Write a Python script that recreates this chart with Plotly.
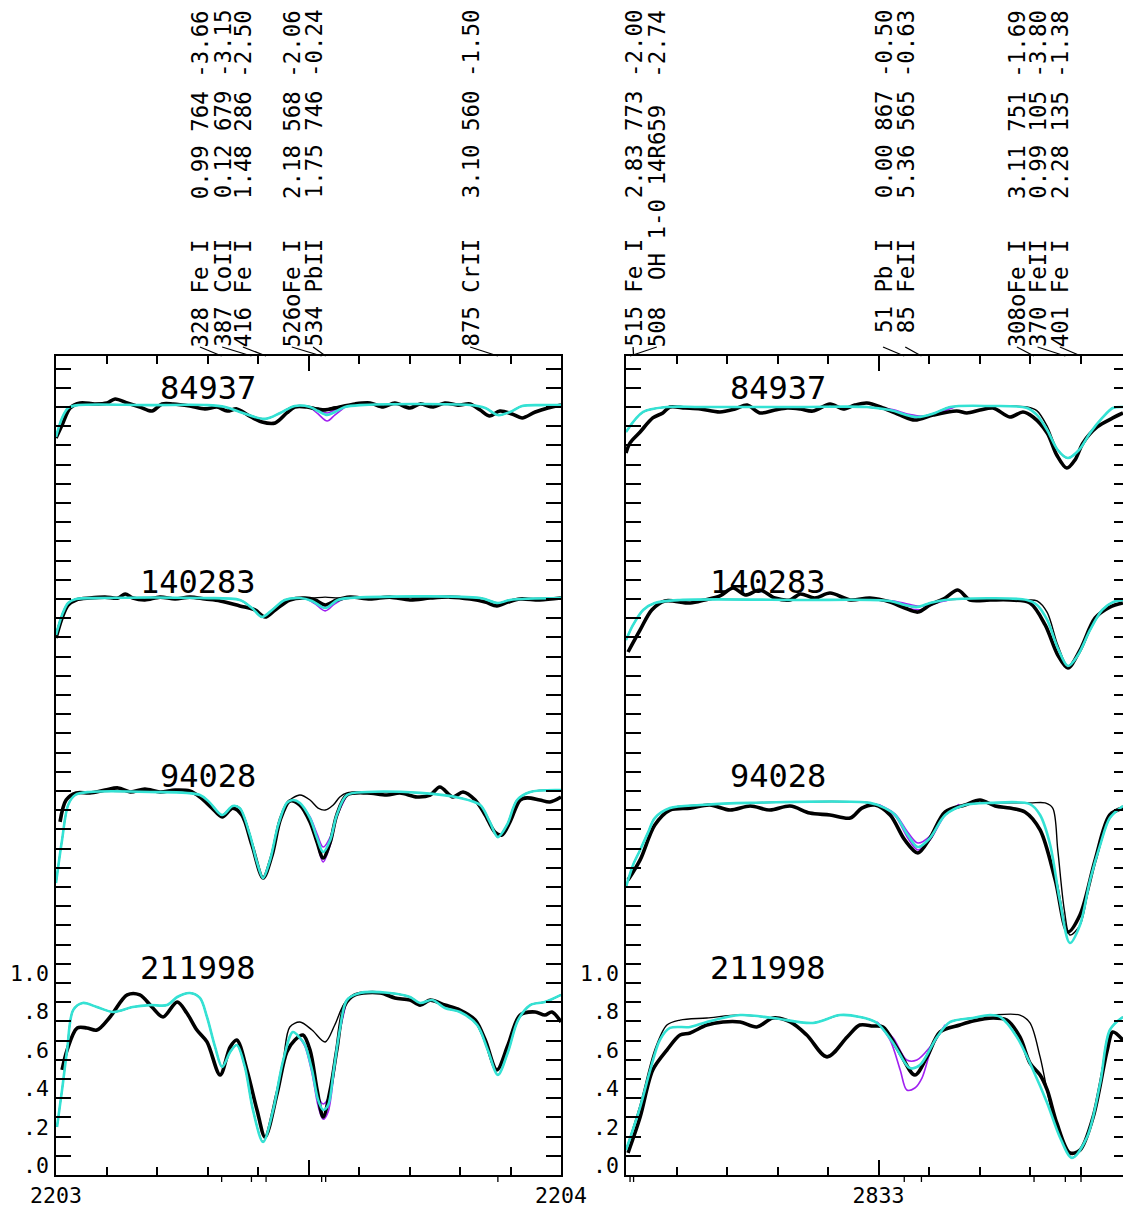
import plotly.graph_objects as go

# ---------------- data (wavelength in Angstrom, relative flux + offset) ----------------
# LEFT PANEL 2203-2204 A
l84937_obs = [(2203.000,3.839),(2203.012,3.906),(2203.028,3.995),(2203.048,4.021),(2203.077,4.016),(2203.101,4.021),
    (2203.117,4.042),(2203.141,4.021),(2203.166,4.000),(2203.190,3.979),(2203.210,4.016),(2203.232,4.016),(2203.265,4.005),
    (2203.295,3.990),(2203.319,4.000),(2203.339,3.979),(2203.358,3.990),(2203.380,3.958),(2203.408,3.922),(2203.434,3.917),
    (2203.457,3.969),(2203.473,4.000),(2203.497,4.000),(2203.529,3.984),(2203.562,4.000),(2203.592,4.016),(2203.622,4.021),
    (2203.648,4.000),(2203.671,4.021),(2203.701,3.995),(2203.721,4.016),(2203.747,4.000),(2203.770,4.021),(2203.796,4.010),
    (2203.820,4.016),(2203.840,3.984),(2203.859,3.953),(2203.879,3.979),(2203.903,3.964),(2203.923,3.943),(2203.949,3.974),
    (2203.974,3.995),(2204.000,4.010)]
l84937_fit = [(2203.000,3.844),(2203.012,3.943),(2203.024,3.995),(2203.044,4.010),(2203.186,4.010),(2203.299,4.010),
    (2203.335,4.000),(2203.364,3.974),(2203.414,3.938),(2203.444,3.969),(2203.473,4.005),(2203.503,4.000),(2203.519,3.979),
    (2203.537,3.958),(2203.552,3.974),(2203.572,4.000),(2203.602,4.010),(2203.820,4.010),(2203.850,3.995),(2203.875,3.958),
    (2203.899,3.974),(2203.923,4.005),(2203.958,4.010),(2204.000,4.010)]
l84937_nopb = [(2203.000,3.844),(2203.012,3.943),(2203.024,3.995),(2203.044,4.010),(2203.186,4.010),(2203.299,4.010),
    (2203.335,4.000),(2203.364,3.974),(2203.414,3.938),(2203.444,3.969),(2203.473,4.005),(2203.503,4.000),(2203.519,3.995),
    (2203.537,3.990),(2203.552,4.000),(2203.572,4.005),(2203.602,4.010),(2203.820,4.010),(2203.850,3.995),(2203.875,3.958),
    (2203.899,3.974),(2203.923,4.005),(2203.958,4.010),(2204.000,4.010)]
l84937_lo = [(2203.503,4.000),(2203.519,3.964),(2203.537,3.927),(2203.552,3.958),(2203.572,4.000)]
l84937_hi = [(2203.503,4.000),(2203.519,3.985),(2203.537,3.969),(2203.552,3.984),(2203.572,4.000)]

l140283_obs = [(2203.000,2.797),(2203.012,2.901),(2203.024,2.969),(2203.040,2.995),(2203.067,3.005),(2203.097,3.010),
    (2203.123,3.005),(2203.137,3.026),(2203.152,3.005),(2203.176,2.995),(2203.206,3.010),(2203.236,3.000),(2203.265,3.010),
    (2203.295,3.000),(2203.325,2.990),(2203.364,2.964),(2203.394,2.943),(2203.414,2.906),(2203.434,2.943),(2203.463,2.995),
    (2203.493,3.005),(2203.513,2.995),(2203.533,2.969),(2203.556,2.995),(2203.582,3.010),(2203.622,3.000),(2203.661,3.010),
    (2203.701,2.995),(2203.741,3.005),(2203.780,3.010),(2203.820,3.000),(2203.850,2.984),(2203.873,2.964),(2203.895,2.984),
    (2203.919,3.000),(2203.958,2.995),(2204.000,3.005)]
l140283_fit = [(2203.000,2.813),(2203.012,2.917),(2203.024,2.979),(2203.040,3.000),(2203.087,3.005),(2203.285,3.005),
    (2203.364,2.995),(2203.388,2.953),(2203.408,2.906),(2203.428,2.943),(2203.453,2.995),(2203.483,3.005),(2203.507,2.990),
    (2203.533,2.953),(2203.558,2.995),(2203.582,3.005),(2203.840,3.005),(2203.875,2.979),(2203.899,2.995),(2204.000,3.005)]
l140283_nopb = [(2203.000,2.813),(2203.012,2.917),(2203.024,2.979),(2203.040,3.000),(2203.087,3.005),(2203.285,3.005),
    (2203.364,2.995),(2203.388,2.953),(2203.408,2.906),(2203.428,2.943),(2203.453,2.995),(2203.483,3.005),(2203.507,3.005),
    (2203.533,3.010),(2203.558,3.005),(2203.582,3.005),(2203.840,3.005),(2203.875,2.979),(2203.899,2.995),(2204.000,3.005)]
l140283_lo = [(2203.493,3.005),(2203.513,2.975),(2203.533,2.938),(2203.552,2.975),(2203.572,3.005)]
l140283_hi = [(2203.493,3.005),(2203.513,2.990),(2203.533,2.964),(2203.552,2.990),(2203.572,3.005)]

l94028_obs = [(2203.008,1.839),(2203.020,1.953),(2203.040,1.990),(2203.067,1.990),(2203.097,2.005),(2203.123,2.016),
    (2203.147,1.995),(2203.176,2.010),(2203.206,1.995),(2203.236,2.005),(2203.265,2.000),(2203.285,1.969),(2203.309,1.911),
    (2203.329,1.865),(2203.350,1.911),(2203.368,1.875),(2203.388,1.719),(2203.410,1.547),(2203.428,1.667),(2203.444,1.849),
    (2203.463,1.948),(2203.483,1.927),(2203.503,1.839),(2203.517,1.734),(2203.529,1.651),(2203.543,1.734),(2203.556,1.875),
    (2203.576,1.979),(2203.616,1.990),(2203.655,1.979),(2203.681,1.990),(2203.715,1.969),(2203.741,1.979),(2203.760,2.021),
    (2203.786,1.969),(2203.806,1.995),(2203.830,1.953),(2203.850,1.875),(2203.869,1.786),(2203.883,1.771),(2203.899,1.839),
    (2203.919,1.953),(2203.933,1.964),(2203.958,1.953),(2203.978,1.943),(2204.000,1.969)]
l94028_fit = [(2203.000,1.521),(2203.012,1.745),(2203.024,1.927),(2203.038,1.979),(2203.067,1.995),(2203.186,1.995),
    (2203.285,1.979),(2203.305,1.938),(2203.329,1.875),(2203.350,1.922),(2203.364,1.911),(2203.384,1.771),(2203.398,1.630),
    (2203.410,1.547),(2203.424,1.641),(2203.440,1.823),(2203.457,1.938),(2203.469,1.953),(2203.483,1.938),(2203.503,1.859),
    (2203.517,1.755),(2203.529,1.682),(2203.543,1.745),(2203.556,1.875),(2203.576,1.979),(2203.616,1.995),(2203.721,1.990),
    (2203.800,1.964),(2203.840,1.927),(2203.859,1.839),(2203.875,1.760),(2203.893,1.823),(2203.913,1.953),(2203.939,1.995),
    (2204.000,2.005)]
l94028_nopb = [(2203.000,1.521),(2203.012,1.745),(2203.024,1.927),(2203.038,1.979),(2203.067,1.995),(2203.186,1.995),
    (2203.285,1.979),(2203.305,1.938),(2203.329,1.875),(2203.350,1.922),(2203.364,1.911),(2203.384,1.771),(2203.398,1.630),
    (2203.410,1.547),(2203.424,1.641),(2203.440,1.823),(2203.457,1.938),(2203.469,1.964),(2203.483,1.979),(2203.503,1.953),
    (2203.519,1.911),(2203.533,1.901),(2203.549,1.927),(2203.562,1.969),(2203.576,1.990),(2203.616,1.995),(2203.721,1.990),
    (2203.800,1.964),(2203.840,1.927),(2203.859,1.839),(2203.875,1.760),(2203.893,1.823),(2203.913,1.953),(2203.939,1.995),
    (2204.000,2.005)]
l94028_lo = [(2203.483,1.938),(2203.503,1.849),(2203.517,1.729),(2203.529,1.630),(2203.543,1.719),(2203.556,1.865),(2203.576,1.979)]
l94028_hi = [(2203.483,1.938),(2203.503,1.865),(2203.517,1.776),(2203.529,1.708),(2203.543,1.760),(2203.556,1.880),(2203.576,1.979)]

l211998_obs = [(2203.012,0.547),(2203.022,0.651),(2203.042,0.766),(2203.061,0.766),(2203.081,0.755),(2203.107,0.823),
    (2203.141,0.938),(2203.166,0.938),(2203.190,0.875),(2203.212,0.823),(2203.240,0.901),(2203.259,0.844),(2203.279,0.755),
    (2203.299,0.693),(2203.325,0.521),(2203.345,0.667),(2203.358,0.703),(2203.378,0.547),(2203.398,0.339),(2203.414,0.198),
    (2203.438,0.427),(2203.457,0.641),(2203.473,0.703),(2203.489,0.729),(2203.503,0.651),(2203.517,0.443),(2203.529,0.302),
    (2203.543,0.443),(2203.556,0.651),(2203.572,0.885),(2203.592,0.938),(2203.642,0.948),(2203.671,0.922),(2203.701,0.911),
    (2203.721,0.885),(2203.741,0.911),(2203.770,0.885),(2203.800,0.859),(2203.830,0.807),(2203.850,0.703),(2203.873,0.547),
    (2203.895,0.677),(2203.919,0.833),(2203.949,0.849),(2203.968,0.833),(2203.982,0.849),(2204.000,0.797)]
l211998_fit = [(2203.002,0.250),(2203.012,0.443),(2203.022,0.651),(2203.034,0.859),(2203.053,0.896),(2203.081,0.875),
    (2203.113,0.849),(2203.152,0.875),(2203.186,0.885),(2203.220,0.885),(2203.240,0.927),(2203.265,0.948),(2203.285,0.922),
    (2203.299,0.823),(2203.315,0.667),(2203.329,0.563),(2203.345,0.641),(2203.358,0.677),(2203.374,0.563),(2203.390,0.339),
    (2203.410,0.172),(2203.430,0.339),(2203.450,0.599),(2203.469,0.745),(2203.483,0.714),(2203.493,0.677),(2203.507,0.547),
    (2203.519,0.391),(2203.529,0.339),(2203.539,0.365),(2203.550,0.547),(2203.562,0.755),(2203.576,0.911),(2203.602,0.948),
    (2203.661,0.948),(2203.701,0.927),(2203.721,0.896),(2203.745,0.911),(2203.770,0.870),(2203.800,0.849),(2203.834,0.781),
    (2203.855,0.651),(2203.875,0.521),(2203.895,0.641),(2203.915,0.807),(2203.939,0.885),(2203.968,0.901),(2204.000,0.938)]
l211998_nopb = [(2203.002,0.250),(2203.012,0.443),(2203.022,0.651),(2203.034,0.859),(2203.053,0.896),(2203.081,0.875),
    (2203.113,0.849),(2203.152,0.875),(2203.186,0.885),(2203.220,0.885),(2203.240,0.927),(2203.265,0.948),(2203.285,0.922),
    (2203.299,0.823),(2203.315,0.667),(2203.329,0.563),(2203.345,0.641),(2203.358,0.677),(2203.374,0.563),(2203.390,0.339),
    (2203.410,0.172),(2203.430,0.339),(2203.450,0.599),(2203.463,0.771),(2203.483,0.797),(2203.507,0.755),(2203.533,0.693),
    (2203.552,0.781),(2203.572,0.896),(2203.602,0.948),(2203.661,0.948),(2203.701,0.927),(2203.721,0.896),(2203.745,0.911),
    (2203.770,0.870),(2203.800,0.849),(2203.834,0.781),(2203.855,0.651),(2203.875,0.521),(2203.895,0.641),(2203.915,0.807),
    (2203.939,0.885),(2203.968,0.901),(2204.000,0.938)]
l211998_lo = [(2203.483,0.714),(2203.493,0.670),(2203.507,0.530),(2203.519,0.360),(2203.529,0.290),(2203.539,0.330),
    (2203.550,0.520),(2203.562,0.745),(2203.576,0.911)]
l211998_hi = [(2203.483,0.714),(2203.493,0.680),(2203.507,0.560),(2203.519,0.410),(2203.529,0.370),(2203.539,0.400),
    (2203.550,0.570),(2203.562,0.765),(2203.576,0.911)]

# RIGHT PANEL 2832.5-2833.5 A
r84937_obs = [(2832.500,3.760),(2832.508,3.813),(2832.528,3.870),(2832.553,3.943),(2832.573,3.969),(2832.587,4.000),
    (2832.617,3.995),(2832.647,3.990),(2832.686,3.974),(2832.716,3.990),(2832.740,4.010),(2832.765,3.969),(2832.795,3.984),
    (2832.819,3.995),(2832.845,3.990),(2832.870,3.979),(2832.904,4.016),(2832.930,3.990),(2832.953,4.010),(2832.977,4.021),
    (2833.009,3.995),(2833.043,3.958),(2833.072,3.932),(2833.108,3.958),(2833.155,3.979),(2833.175,3.969),(2833.201,3.984),
    (2833.227,3.995),(2833.260,3.948),(2833.286,3.974),(2833.306,3.948),(2833.334,3.865),(2833.353,3.750),(2833.373,3.682),
    (2833.389,3.724),(2833.405,3.813),(2833.433,3.896),(2833.464,3.943),(2833.484,3.969)]
r84937_fit = [(2832.500,3.870),(2832.534,3.974),(2832.581,4.000),(2832.647,4.000),(2832.845,4.000),(2832.977,4.000),
    (2833.023,3.984),(2833.076,3.948),(2833.112,3.969),(2833.142,4.000),(2833.221,4.005),(2833.294,3.995),(2833.314,3.958),
    (2833.334,3.880),(2833.355,3.776),(2833.375,3.734),(2833.397,3.776),(2833.419,3.865),(2833.443,3.943),(2833.464,3.995),
    (2833.484,4.000)]
r84937_nofe = [(2832.500,3.870),(2832.534,3.974),(2832.581,4.000),(2832.647,4.000),(2832.845,4.000),(2832.977,4.000),
    (2833.023,3.984),(2833.076,3.948),(2833.112,3.969),(2833.142,4.000),(2833.221,4.005),(2833.294,4.000),(2833.314,3.980),
    (2833.334,3.900),(2833.355,3.776),(2833.375,3.734),(2833.397,3.776),(2833.419,3.865),(2833.443,3.943),(2833.464,3.995),
    (2833.484,4.000)]
r84937_lo = [(2833.000,4.000),(2833.030,3.975),(2833.060,3.945),(2833.090,3.950),(2833.120,3.975),(2833.150,4.000)]
r84937_hi = [(2833.000,4.000),(2833.030,3.985),(2833.060,3.962),(2833.090,3.952),(2833.120,3.970),(2833.150,4.000)]

r140283_obs = [(2832.504,2.724),(2832.528,2.839),(2832.551,2.943),(2832.577,2.990),(2832.627,2.979),(2832.656,2.995),
    (2832.686,3.016),(2832.712,3.057),(2832.736,3.021),(2832.765,3.047),(2832.795,3.005),(2832.825,2.995),(2832.845,3.026),
    (2832.874,3.005),(2832.904,3.031),(2832.944,2.995),(2832.983,3.005),(2833.023,2.984),(2833.052,2.953),(2833.078,2.932),
    (2833.102,2.969),(2833.132,3.005),(2833.157,3.047),(2833.181,2.995),(2833.221,2.995),(2833.260,2.995),(2833.300,2.979),
    (2833.330,2.865),(2833.355,2.708),(2833.375,2.641),(2833.399,2.734),(2833.429,2.901),(2833.458,2.958),(2833.484,2.979)]
r140283_fit = [(2832.500,2.786),(2832.514,2.865),(2832.534,2.943),(2832.557,2.979),(2832.607,2.995),(2832.845,2.995),
    (2833.023,2.990),(2833.052,2.969),(2833.076,2.958),(2833.102,2.979),(2833.132,2.995),(2833.294,2.995),(2833.314,2.969),
    (2833.334,2.891),(2833.355,2.745),(2833.375,2.651),(2833.395,2.708),(2833.419,2.839),(2833.443,2.943),(2833.464,2.984),
    (2833.484,2.995)]
r140283_nofe = [(2832.500,2.786),(2832.514,2.865),(2832.534,2.943),(2832.557,2.979),(2832.607,2.995),(2832.845,2.995),
    (2833.023,2.990),(2833.052,2.969),(2833.076,2.958),(2833.102,2.979),(2833.132,2.995),(2833.294,2.995),(2833.314,2.990),
    (2833.334,2.930),(2833.355,2.760),(2833.375,2.651),(2833.395,2.708),(2833.419,2.839),(2833.443,2.943),(2833.464,2.984),
    (2833.484,2.995)]
r140283_lo = [(2833.000,2.995),(2833.030,2.980),(2833.060,2.950),(2833.085,2.945),(2833.110,2.975),(2833.140,2.995)]
r140283_hi = [(2833.000,2.995),(2833.030,2.990),(2833.060,2.972),(2833.085,2.962),(2833.110,2.982),(2833.140,2.995)]

r94028_obs = [(2832.504,1.536),(2832.528,1.641),(2832.557,1.823),(2832.587,1.901),(2832.627,1.911),(2832.666,1.927),
    (2832.706,1.901),(2832.746,1.922),(2832.785,1.901),(2832.825,1.922),(2832.864,1.885),(2832.904,1.875),(2832.944,1.859),
    (2832.967,1.911),(2832.993,1.927),(2833.023,1.875),(2833.052,1.745),(2833.078,1.677),(2833.102,1.755),(2833.132,1.891),
    (2833.171,1.927),(2833.201,1.953),(2833.231,1.922),(2833.260,1.911),(2833.290,1.891),(2833.320,1.797),(2833.350,1.536),
    (2833.375,1.266),(2833.399,1.354),(2833.429,1.641),(2833.458,1.875),(2833.484,1.911)]
r94028_fit = [(2832.500,1.500),(2832.514,1.615),(2832.528,1.693),(2832.544,1.786),(2832.557,1.859),(2832.587,1.911),
    (2832.647,1.927),(2832.746,1.938),(2832.983,1.938),(2833.013,1.911),(2833.033,1.875),(2833.058,1.771),(2833.078,1.708),
    (2833.102,1.755),(2833.132,1.875),(2833.171,1.927),(2833.221,1.938),(2833.300,1.932),(2833.320,1.875),(2833.340,1.719),
    (2833.359,1.432),(2833.379,1.208),(2833.399,1.302),(2833.419,1.536),(2833.439,1.719),(2833.458,1.859),(2833.484,1.922)]
r94028_nofe = [(2832.500,1.500),(2832.514,1.615),(2832.528,1.693),(2832.544,1.786),(2832.557,1.859),(2832.587,1.911),
    (2832.647,1.927),(2832.746,1.938),(2832.983,1.938),(2833.013,1.911),(2833.033,1.875),(2833.058,1.771),(2833.078,1.708),
    (2833.102,1.755),(2833.132,1.875),(2833.171,1.927),(2833.221,1.938),(2833.300,1.938),(2833.330,1.938),(2833.345,1.911),
    (2833.355,1.693),(2833.368,1.380),(2833.379,1.250),(2833.399,1.302),(2833.419,1.536),(2833.439,1.719),(2833.458,1.859),
    (2833.484,1.922)]
r94028_lo = [(2833.000,1.930),(2833.033,1.870),(2833.058,1.755),(2833.078,1.693),(2833.102,1.745),(2833.132,1.875),(2833.160,1.930)]
r94028_hi = [(2833.000,1.930),(2833.033,1.880),(2833.058,1.785),(2833.078,1.729),(2833.102,1.765),(2833.132,1.880),(2833.160,1.930)]

r211998_obs = [(2832.504,0.115),(2832.528,0.302),(2832.553,0.547),(2832.581,0.651),(2832.607,0.729),(2832.627,0.740),
    (2832.660,0.781),(2832.692,0.797),(2832.726,0.797),(2832.759,0.771),(2832.791,0.818),(2832.825,0.797),(2832.858,0.729),
    (2832.898,0.615),(2832.938,0.719),(2832.963,0.781),(2832.989,0.776),(2833.009,0.771),(2833.039,0.651),(2833.072,0.521),
    (2833.096,0.615),(2833.122,0.745),(2833.161,0.781),(2833.187,0.802),(2833.227,0.818),(2833.254,0.807),(2833.280,0.719),
    (2833.300,0.583),(2833.320,0.521),(2833.334,0.443),(2833.353,0.271),(2833.379,0.115),(2833.399,0.130),(2833.425,0.302),
    (2833.453,0.651),(2833.464,0.745),(2833.484,0.703)]
r211998_fit = [(2832.500,0.130),(2832.528,0.354),(2832.548,0.547),(2832.567,0.703),(2832.587,0.766),(2832.627,0.771),
    (2832.660,0.797),(2832.726,0.833),(2832.791,0.818),(2832.870,0.792),(2832.924,0.833),(2832.963,0.823),(2832.997,0.792),
    (2833.029,0.688),(2833.062,0.557),(2833.082,0.573),(2833.116,0.719),(2833.142,0.797),(2833.187,0.818),(2833.221,0.833),
    (2833.241,0.823),(2833.274,0.719),(2833.306,0.547),(2833.334,0.375),(2833.359,0.198),(2833.383,0.089),(2833.413,0.198),
    (2833.439,0.479),(2833.458,0.755),(2833.484,0.823)]
r211998_nofe = [(2832.500,0.130),(2832.528,0.365),(2832.557,0.651),(2832.581,0.781),(2832.607,0.807),(2832.660,0.818),
    (2832.726,0.833),(2832.791,0.818),(2832.870,0.792),(2832.924,0.833),(2832.963,0.823),(2832.997,0.792),(2833.029,0.688),
    (2833.062,0.557),(2833.082,0.573),(2833.116,0.719),(2833.142,0.797),(2833.187,0.818),(2833.227,0.833),(2833.280,0.833),
    (2833.300,0.792),(2833.320,0.615),(2833.346,0.302),(2833.373,0.130),(2833.383,0.089),(2833.413,0.198),(2833.439,0.479),
    (2833.458,0.755),(2833.484,0.823)]
r211998_lo = [(2832.997,0.797),(2833.023,0.703),(2833.043,0.547),(2833.056,0.443),(2833.072,0.453),(2833.086,0.505),
    (2833.106,0.667),(2833.132,0.781)]
r211998_hi = [(2832.997,0.797),(2833.029,0.714),(2833.056,0.599),(2833.076,0.599),(2833.102,0.667),(2833.132,0.781)]

# star names and label rows
star_names = ["84937", "140283", "94028", "211998"]
star_label_y = [4.10, 3.09, 2.08, 1.08]

left_line_wl = [2203.328, 2203.387, 2203.416, 2203.526, 2203.534, 2203.875]
left_label_x = [2203.285, 2203.329, 2203.370, 2203.467, 2203.509, 2203.820]
left_label_text = ["328 Fe I   0.99 764 -3.66", "387 CoII   0.12 679 -3.15", "416 Fe I   1.48 286 -2.50",
                   "526oFe I   2.18 568 -2.06", "534 PbII   1.75 746 -0.24", "875 CrII   3.10 560 -1.50"]
right_line_wl = [2832.515, 2832.508, 2833.051, 2833.085, 2833.308, 2833.370, 2833.401]
right_label_x = [2832.514, 2832.561, 2833.009, 2833.053, 2833.274, 2833.315, 2833.359]
right_label_text = ["515 Fe I   2.83 773 -2.00", "508  OH 1-0 14R659  -2.74", " 51 Pb I   0.00 867 -0.50",
                    " 85 FeII   5.36 565 -0.63", "308oFe I   3.11 751 -1.69", "370 FeII   0.99 105 -3.80",
                    "401 Fe I   2.28 135 -1.38"]

ytick_vals = [0.0, 0.2, 0.4, 0.6, 0.8, 1.0]
ytick_text = [".0", ".2", ".4", ".6", ".8", "1.0"]

# ---------------- figure ----------------
W, H = 1123, 1207
ML, MR, MT, MB = 56, 0, 356, 32
PW = W - ML - MR
PH = H - MT - MB
L_END = 505 / PW
R_START = 570 / PW
YMAX = PH / 192.0

CYAN = "#34e2d4"
PURPLE = "#a020f0"
MONO = "DejaVu Sans Mono"

fig = go.Figure()

def add(pairs, xa, ya, color, width):
    fig.add_trace(go.Scatter(x=[p[0] for p in pairs], y=[p[1] for p in pairs], mode="lines",
                             line=dict(color=color, width=width, shape="spline", smoothing=0.9),
                             xaxis=xa, yaxis=ya, showlegend=False, hoverinfo="skip"))

left_sets = [(l84937_obs, l84937_fit, l84937_nopb, l84937_lo, l84937_hi),
             (l140283_obs, l140283_fit, l140283_nopb, l140283_lo, l140283_hi),
             (l94028_obs, l94028_fit, l94028_nopb, l94028_lo, l94028_hi),
             (l211998_obs, l211998_fit, l211998_nopb, l211998_lo, l211998_hi)]
right_sets = [(r84937_obs, r84937_fit, r84937_nofe, r84937_lo, r84937_hi),
              (r140283_obs, r140283_fit, r140283_nofe, r140283_lo, r140283_hi),
              (r94028_obs, r94028_fit, r94028_nofe, r94028_lo, r94028_hi),
              (r211998_obs, r211998_fit, r211998_nofe, r211998_lo, r211998_hi)]

for sets, xa, ya in [(left_sets, "x", "y"), (right_sets, "x2", "y2")]:
    for obs, fit, alt, lo, hi in sets:
        add(alt, xa, ya, "black", 1.4)
        add(lo, xa, ya, PURPLE, 1.6)
        add(hi, xa, ya, PURPLE, 1.6)
        add(obs, xa, ya, "black", 3.6)
        add(fit, xa, ya, CYAN, 2.6)

axis_common = dict(showgrid=False, zeroline=False, showline=True, linecolor="black", linewidth=2,
                   ticks="inside", tickcolor="black", tickwidth=1.6, automargin=False)

fig.update_layout(
    width=W, height=H, autosize=False, margin=dict(l=ML, r=MR, t=MT, b=MB, pad=0, autoexpand=False),
    paper_bgcolor="white", plot_bgcolor="white", showlegend=False,
    font=dict(family=MONO, color="black"),
    xaxis=dict(domain=[0, L_END], range=[2203.0, 2204.0], anchor="y", mirror="ticks",
               tickvals=[2203.0, 2203.5, 2204.0], ticktext=["2203", "", "2204"], ticklen=15,
               minor=dict(ticks="inside", ticklen=8, dtick=0.1, tick0=2203.0, tickcolor="black", tickwidth=1.6),
               tickfont=dict(family=MONO, size=21.5), **axis_common),
    xaxis2=dict(domain=[R_START, 1.0], range=[2832.5, 2832.5 + 497 / 505], anchor="y2", mirror="ticks",
                tickvals=[2833.0], ticktext=["2833"], ticklen=15,
                minor=dict(ticks="inside", ticklen=8, dtick=0.1, tick0=2832.5, tickcolor="black", tickwidth=1.6),
                tickfont=dict(family=MONO, size=21.5), **axis_common),
    yaxis=dict(domain=[0, 1], range=[0, YMAX], anchor="x", mirror="ticks", dtick=0.1, tick0=0,
               ticklen=15, showticklabels=False, **axis_common),
    yaxis2=dict(domain=[0, 1], range=[0, YMAX], anchor="x2", mirror=False, dtick=0.1, tick0=0,
                ticklen=15, showticklabels=False, **axis_common),
    yaxis3=dict(range=[0, YMAX], overlaying="y2", anchor="x2", side="right", dtick=0.1, tick0=0,
                ticks="inside", ticklen=9, tickcolor="black", tickwidth=1.6, showticklabels=False,
                showline=False, showgrid=False, zeroline=False, automargin=False),
)
# invisible trace so the right-edge tick axis is drawn
fig.add_trace(go.Scatter(x=[2832.6], y=[0.5], xaxis="x2", yaxis="y3", mode="markers",
                         marker=dict(opacity=0), showlegend=False, hoverinfo="skip"))

annotations = []
shapes = []

# y tick labels
for xpaper in [0.0, R_START]:
    for v, t in zip(ytick_vals, ytick_text):
        annotations.append(dict(text=t, xref="paper", yref="y", x=xpaper, y=v, xanchor="right", yanchor="bottom",
                                xshift=-5, yshift=-5, showarrow=False, font=dict(family=MONO, size=21.5)))

# star names
for base, xa, ya in [(2203.0, "x", "y"), (2832.5, "x2", "y2")]:
    for name, yy in zip(star_names, star_label_y):
        annotations.append(dict(text=name, xref=xa, yref=ya, x=base + 0.40, y=yy, xanchor="right", yanchor="middle",
                                showarrow=False, font=dict(family=MONO, size=32)))

# line identification labels, connectors, and marks under the axis
NB = "\u00a0"
for xa, wls, lxs, texts in [("x", left_line_wl, left_label_x, left_label_text),
                            ("x2", right_line_wl, right_label_x, right_label_text)]:
    for wl, lx, txt in zip(wls, lxs, texts):
        annotations.append(dict(text=txt.replace(" ", NB), xref=xa, yref="paper", x=lx, y=1.0, yshift=8,
                                textangle=-90, xanchor="center", yanchor="bottom", showarrow=False,
                                borderpad=0, font=dict(family=MONO, size=22.4)))
        shapes.append(dict(type="line", xref=xa, yref="paper", x0=lx, y0=1 + 9 / PH, x1=wl, y1=1.0,
                           line=dict(color="black", width=1.3)))
        shapes.append(dict(type="line", xref=xa, yref="paper", x0=wl, y0=0.0, x1=wl, y1=-7 / PH,
                           line=dict(color="black", width=1.3)))

fig.update_layout(annotations=annotations, shapes=shapes)

page_fix = ("document.documentElement.style.margin='0';document.documentElement.style.overflow='hidden';"
            "document.body.style.margin='0';document.body.style.padding='0';document.body.style.overflow='hidden';"
            "var gd=document.getElementById('{plot_id}');Plotly.relayout(gd,{width:1123,height:1207});")
fig.write_html("out.html", config={"responsive": False, "displayModeBar": False}, post_script=page_fix)
